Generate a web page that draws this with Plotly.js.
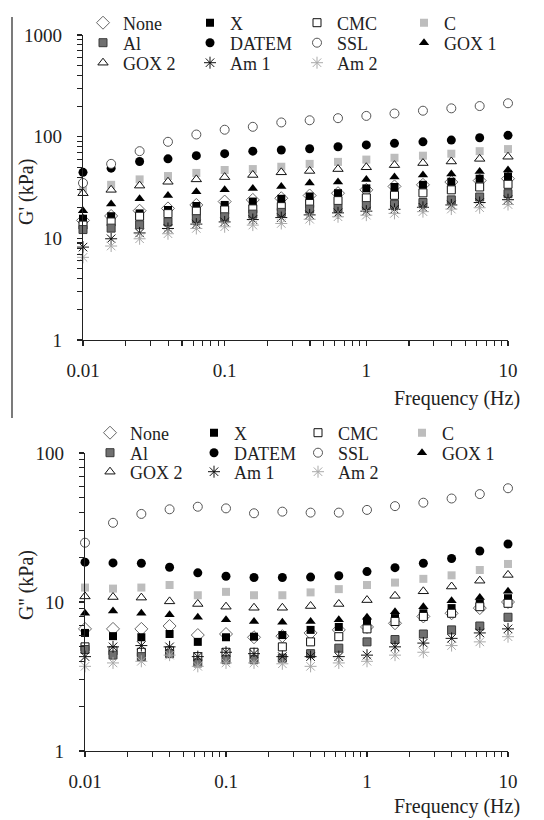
<!DOCTYPE html>
<html>
<head>
<meta charset="utf-8">
<script src="https://cdn.plot.ly/plotly-3.0.1.min.js"></script>
<style>html,body{margin:0;padding:0;background:#fff;}#chart{width:544px;height:820px;}</style>
</head>
<body>
<div id="chart"></div>
<script>
// Frequency (Hz)
const freq = [0.01, 0.0158, 0.0251, 0.0398, 0.0631, 0.1, 0.158, 0.251, 0.398, 0.631, 1, 1.58, 2.51, 3.98, 6.31, 10];

const seriesNames = ["None", "X", "CMC", "C", "Al", "DATEM", "SSL", "GOX 1", "GOX 2", "Am 1", "Am 2"];

// G' (kPa) – storage modulus
const gp_None  = [15, 16.6, 18.7, 19.7, 21.3, 23, 23.9, 24.8, 26.4, 27.8, 30, 32.4, 33.6, 35.8, 37, 38.6];
const gp_X     = [15.6, 16.5, 17.6, 19, 20.8, 21.3, 23, 24.5, 25.8, 27.8, 31, 32, 33.6, 36, 38.6, 40.6];
const gp_CMC   = [13.5, 14.5, 16.5, 17.5, 18.5, 19, 19.5, 20.5, 22, 23.5, 25, 26.5, 28, 30, 32, 34];
const gp_C     = [31, 33.6, 38, 41, 44, 47, 48, 50.6, 54, 56.5, 59.5, 62, 65, 68, 72, 75.5];
const gp_Al    = [12.2, 12.6, 13.6, 14.5, 15.6, 16.3, 17.3, 18, 19.4, 19.7, 21, 21.6, 22.5, 23.9, 25.5, 27.5];
const gp_DATEM = [44.6, 49, 57, 60.5, 65, 68, 72, 74, 76, 79.5, 83, 86, 89, 92.5, 97.5, 103];
const gp_SSL   = [35, 54, 72, 89, 105, 117, 125, 138, 145, 152, 160, 169, 180, 190, 200, 213];
const gp_GOX1  = [18.7, 21.8, 24.5, 26.4, 28.8, 30, 31, 32.4, 35, 35.8, 38, 40, 42, 43, 45.5, 47];
const gp_GOX2  = [27.8, 30, 33, 36, 38, 40, 42, 44.6, 46, 48, 50, 52.5, 55, 57, 60.5, 63.5];
const gp_Am1   = [8.2, 9.9, 11.3, 12.5, 13.8, 14.5, 15.3, 16, 17, 17.8, 18.5, 19.3, 20.2, 21.3, 22.5, 24];
const gp_Am2   = [6.5, 8.4, 9.9, 11.1, 12.5, 13, 13.5, 14, 15.4, 16.3, 16.9, 17.6, 18.3, 19.4, 20, 21.5];

// G'' (kPa) – loss modulus
const gpp_None  = [6.6, 6.6, 6.6, 6.9, 6.0, 6.1, 5.8, 5.9, 6.2, 6.5, 6.8, 7.2, 8.0, 8.4, 9.1, 10];
const gpp_X     = [6.2, 5.9, 5.8, 6.1, 5.4, 5.8, 5.85, 6.0, 6.5, 6.8, 7.4, 7.8, 8.4, 9.1, 9.8, 10.6];
const gpp_CMC   = [5.0, 4.7, 4.6, 4.7, 4.3, 4.6, 4.6, 5.0, 5.4, 5.85, 6.6, 7.4, 8.0, 8.4, 9.3, 9.8];
const gpp_C     = [12.5, 12.3, 12.5, 13, 11.1, 11.7, 11.1, 11.1, 11.6, 12.2, 13, 13.5, 14.3, 15.1, 16.4, 18];
const gpp_Al    = [4.8, 4.4, 4.3, 4.5, 3.9, 4.1, 4.1, 4.2, 4.5, 4.9, 5.4, 5.6, 6.1, 6.5, 6.9, 7.9];
const gpp_DATEM = [18.5, 18.3, 18.2, 17.1, 15.7, 14.9, 14.6, 14.6, 14.7, 15.0, 16, 17, 18.2, 19.6, 22, 24.5];
const gpp_SSL   = [25, 34, 39, 41.9, 43.6, 42.5, 39.4, 40.4, 39.8, 39.8, 41.5, 44, 46.4, 49.5, 53, 58];
const gpp_GOX1  = [8.4, 8.7, 8.4, 8.2, 7.9, 7.6, 7.4, 7.3, 7.4, 7.6, 7.9, 8.6, 9.3, 10.2, 10.7, 11.8];
const gpp_GOX2  = [10.9, 10.8, 10.7, 10.1, 9.7, 9.3, 9.15, 9.15, 9.4, 9.7, 10.3, 11, 11.8, 12.7, 13.9, 15.2];
const gpp_Am1   = [4.3, 5.0, 5.1, 5.0, 4.3, 4.6, 4.5, 4.3, 4.3, 4.3, 4.4, 5.0, 5.3, 5.7, 6.2, 6.6];
const gpp_Am2   = [3.7, 3.9, 4.0, 4.4, 3.7, 3.9, 3.9, 3.85, 3.7, 3.9, 4.0, 4.4, 4.6, 5.1, 5.4, 5.85];

// Tick values (log axes: labelled decades plus unlabelled 2..9 minors)
const xTickVals = [0.01,0.02,0.03,0.04,0.05,0.06,0.07,0.08,0.09,0.1,0.2,0.3,0.4,0.5,0.6,0.7,0.8,0.9,1,2,3,4,5,6,7,8,9,10];
const xTickText = ['0.01','','','','','','','','','0.1','','','','','','','','','1','','','','','','','','','10'];
const yTopTickVals = [1,2,3,4,5,6,7,8,9,10,20,30,40,50,60,70,80,90,100,200,300,400,500,600,700,800,900,1000];
const yTopTickText = ['1','','','','','','','','','10','','','','','','','','','100','','','','','','','','','1000'];
const yBotTickVals = [1,2,3,4,5,6,7,8,9,10,20,30,40,50,60,70,80,90,100];
const yBotTickText = ['1','','','','','','','','','10','','','','','','','','','100'];

const gpData  = [gp_None, gp_X, gp_CMC, gp_C, gp_Al, gp_DATEM, gp_SSL, gp_GOX1, gp_GOX2, gp_Am1, gp_Am2];
const gppData = [gpp_None, gpp_X, gpp_CMC, gpp_C, gpp_Al, gpp_DATEM, gpp_SSL, gpp_GOX1, gpp_GOX2, gpp_Am1, gpp_Am2];

// marker styles per series
const markerStyles = [
  {symbol: 'diamond', size: 10, color: '#ffffff', line: {color: '#666666', width: 1}},
  {symbol: 'square', size: 8, color: '#000000', line: {color: '#000000', width: 0}},
  {symbol: 'square', size: 8, color: '#ffffff', line: {color: '#111111', width: 1}},
  {symbol: 'square', size: 8, color: '#bdbdbd', line: {color: '#bdbdbd', width: 0}},
  {symbol: 'square', size: 8, color: '#707070', line: {color: '#3a3a3a', width: 1}},
  {symbol: 'circle', size: 9, color: '#000000', line: {color: '#000000', width: 0}},
  {symbol: 'circle', size: 9, color: '#ffffff', line: {color: '#555555', width: 1}},
  {symbol: 'triangle-up', size: 9, color: '#000000', line: {color: '#000000', width: 0}},
  {symbol: 'triangle-up', size: 9, color: '#ffffff', line: {color: '#111111', width: 1}},
  {symbol: 'asterisk-open', size: 10, color: '#111111', line: {color: '#111111', width: 1}},
  {symbol: 'asterisk-open', size: 10, color: '#aaaaaa', line: {color: '#aaaaaa', width: 1}}
];

// legend row per series (4 entries per row)
const rowOf = i => Math.floor(i / 4);
const topLegends = ['legend', 'legend3', 'legend5'];
const botLegends = ['legend2', 'legend4', 'legend6'];

const traces = [];
seriesNames.forEach((name, i) => {
  traces.push({
    x: freq, y: gpData[i], name: name, type: 'scatter', mode: 'markers',
    xaxis: 'x', yaxis: 'y', legend: topLegends[rowOf(i)], cliponaxis: false,
    marker: markerStyles[i]
  });
});
seriesNames.forEach((name, i) => {
  traces.push({
    x: freq, y: gppData[i], name: name, type: 'scatter', mode: 'markers',
    xaxis: 'x2', yaxis: 'y2', legend: botLegends[rowOf(i)], cliponaxis: false,
    marker: markerStyles[i]
  });
});

const W = 544, H = 820, MR = 36, PW = W - MR;
const serif = 'Liberation Serif';
const tickFont = {family: serif, size: 19, color: '#222'};

function xAxis(l, r, anchor) {
  return {
    type: 'log', range: [-2, 1], domain: [l / PW, r / PW], anchor: anchor,
    showgrid: false, zeroline: false, showline: true, linecolor: '#222', linewidth: 1.3,
    ticks: 'outside', ticklen: 5, tickcolor: '#222', tickwidth: 1.1,
    tickmode: 'array', tickvals: xTickVals, ticktext: xTickText,
    tickfont: tickFont, ticklabelstandoff: 8,
    fixedrange: true
  };
}
function yAxis(top, bottom, range, anchor, vals, text) {
  return {
    type: 'log', range: range, domain: [1 - bottom / H, 1 - top / H], anchor: anchor,
    showgrid: false, zeroline: false, showline: true, linecolor: '#222', linewidth: 1.3,
    ticks: 'outside', ticklen: 5, tickcolor: '#222', tickwidth: 1.1,
    tickmode: 'array', tickvals: vals, ticktext: text,
    tickfont: tickFont, ticklabelstandoff: 11,
    fixedrange: true
  };
}

const legendBase = {
  orientation: 'h', xanchor: 'left', yanchor: 'middle',
  font: {family: serif, size: 18, color: '#222'},
  bgcolor: 'rgba(0,0,0,0)', borderwidth: 0, itemclick: false, itemdoubleclick: false
};
const topRows = [23, 43, 63];
const botRows = [433, 453, 472];

const layout = {
  width: W, height: H,
  font: {family: serif, color: '#222'},
  margin: {l: 0, r: MR, t: 0, b: 0},
  paper_bgcolor: '#ffffff', plot_bgcolor: '#ffffff',
  showlegend: true,
  xaxis: xAxis(83, 508, 'y'),
  yaxis: yAxis(35, 340, [0, 3], 'x', yTopTickVals, yTopTickText),
  xaxis2: xAxis(85, 508, 'y2'),
  yaxis2: yAxis(453, 751, [0, 2], 'x2', yBotTickVals, yBotTickText),
  annotations: [
    {text: 'Frequency (Hz)', xref: 'paper', yref: 'paper', x: 522 / PW, y: 1 - 398 / H,
     xanchor: 'right', yanchor: 'middle', showarrow: false, font: {family: serif, size: 20, color: '#222'}},
    {text: 'Frequency (Hz)', xref: 'paper', yref: 'paper', x: 522 / PW, y: 1 - 806 / H,
     xanchor: 'right', yanchor: 'middle', showarrow: false, font: {family: serif, size: 20, color: '#222'}},
    {text: "G' (kPa)", xref: 'paper', yref: 'paper', x: 26 / PW, y: 1 - 192 / H, textangle: -90,
     xanchor: 'center', yanchor: 'middle', showarrow: false, font: {family: serif, size: 20, color: '#222'}},
    {text: "G'' (kPa)", xref: 'paper', yref: 'paper', x: 26 / PW, y: 1 - 585 / H, textangle: -90,
     xanchor: 'center', yanchor: 'middle', showarrow: false, font: {family: serif, size: 20, color: '#222'}}
  ],
  shapes: [
    {type: 'line', xref: 'paper', yref: 'paper', x0: 12 / PW, x1: 12 / PW, y0: 1 - 418 / H, y1: 1 - 17 / H,
     line: {color: '#222', width: 1.2}}
  ]
};
topLegends.forEach((k, r) => {
  layout[k] = Object.assign({}, legendBase, {x: 83 / PW, y: 1 - topRows[r] / H, entrywidth: 62});
});
botLegends.forEach((k, r) => {
  layout[k] = Object.assign({}, legendBase, {x: 90 / PW, y: 1 - botRows[r] / H, entrywidth: 59});
});

Plotly.newPlot('chart', traces, layout, {staticPlot: true, displayModeBar: false});
</script>
</body>
</html>
